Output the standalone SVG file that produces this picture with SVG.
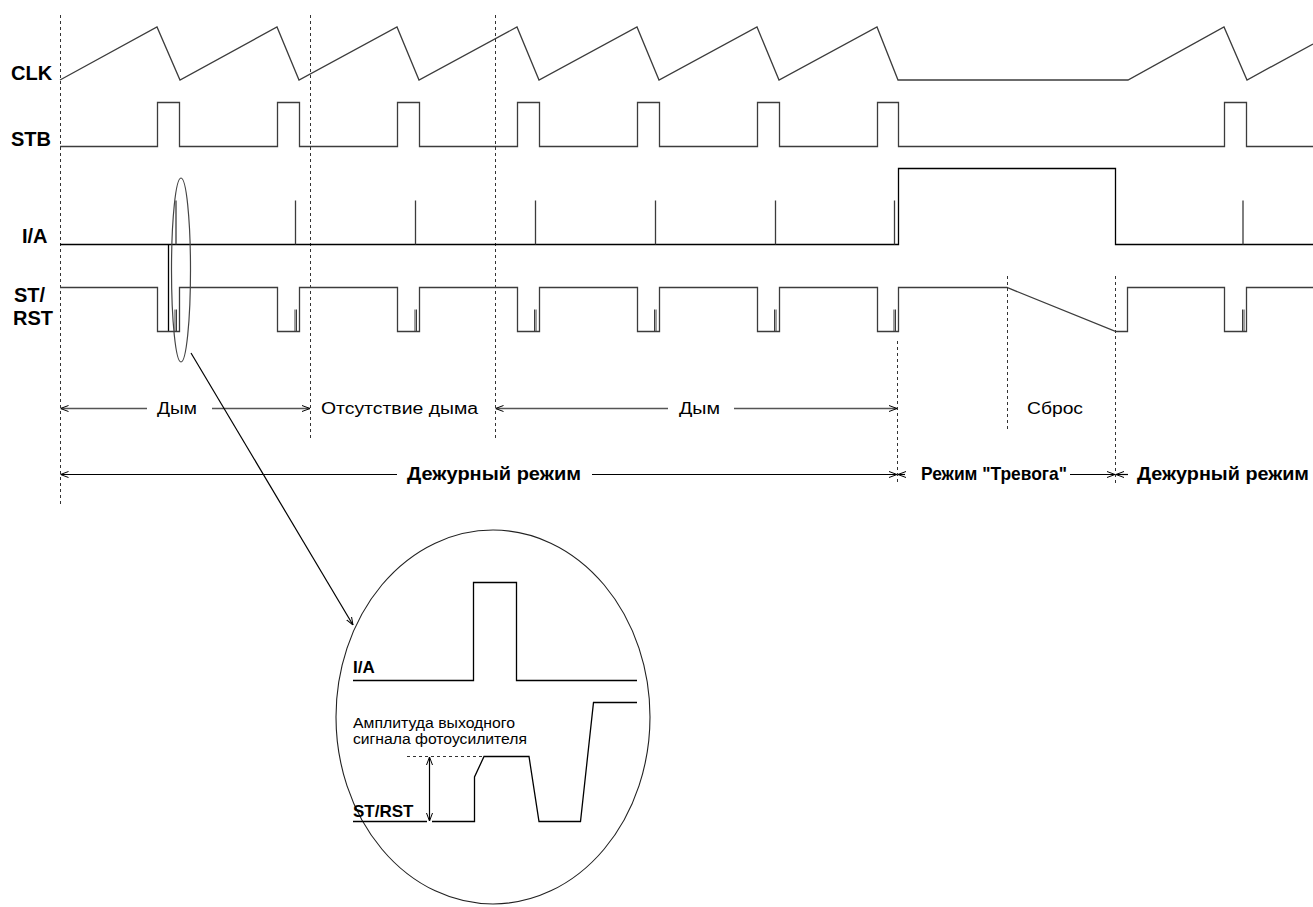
<svg xmlns="http://www.w3.org/2000/svg" width="1313" height="907" viewBox="0 0 1313 907">
<style>
.w{fill:none;stroke:#3c3c3c;stroke-width:1.3}
.s{fill:none;stroke:#3c3c3c;stroke-width:1}
.b{fill:none;stroke:#000;stroke-width:1.3}
.d{fill:none;stroke:#333;stroke-width:1;stroke-dasharray:3,3}
.a1{fill:none;stroke:#555;stroke-width:1.4}
.a2{fill:none;stroke:#000;stroke-width:1.2}
.lab{font-family:"Liberation Sans",Arial,sans-serif;font-weight:bold;font-size:20px;fill:#000}
.t1{font-family:"Liberation Sans",Arial,sans-serif;font-size:16px;fill:#000}
.t2{font-family:"Liberation Sans",Arial,sans-serif;font-weight:bold;font-size:18.5px;fill:#000}
.t3{font-family:"Liberation Sans",Arial,sans-serif;font-size:14px;fill:#000}
.t4{font-family:"Liberation Sans",Arial,sans-serif;font-weight:bold;font-size:17px;fill:#000}
</style>
<defs>
<marker id="ah" viewBox="0 0 8 8" refX="8" refY="4" markerWidth="8" markerHeight="8" orient="auto-start-reverse" markerUnits="userSpaceOnUse">
<path d="M0,1 L8,4 L0,7" fill="none" stroke="#000" stroke-width="1"/>
</marker>
</defs>
<rect width="1313" height="907" fill="#fff"/>

<g id="guides">
<line class="d" x1="60.5" y1="15" x2="60.5" y2="507"/>
<line class="d" x1="310.5" y1="15" x2="310.5" y2="441"/>
<line class="d" x1="495.5" y1="15" x2="495.5" y2="441"/>
<line class="d" x1="897.5" y1="341" x2="897.5" y2="482"/>
<line class="d" x1="1007.5" y1="276" x2="1007.5" y2="430"/>
<line class="d" x1="1115.5" y1="276" x2="1115.5" y2="485"/>
</g>

<g id="clk">
<text class="lab" x="11" y="80">CLK</text>
<path class="w" d="M60,80 L157,27 L180,80 L277,27 L299,80 L397,27 L419,80 L517,27 L539,80 L637,27 L659,80 L757,27 L779,80 L877,27 L898,80 L1128,80 L1224,27 L1247,80 L1313,44"/>
</g>

<g id="stb">
<text class="lab" x="11" y="146">STB</text>
<path class="w" d="M60,146.5 H157.5 V102.5 H179.5 V146.5 H277.5 V102.5 H299.5 V146.5 H397.5 V102.5 H419.5 V146.5 H517.5 V102.5 H539.5 V146.5 H637.5 V102.5 H659.5 V146.5 H757.5 V102.5 H779.5 V146.5 H877.5 V102.5 H898.5 V146.5 H1224.5 V102.5 H1246.5 V146.5 H1313"/>
</g>

<g id="ia">
<text class="lab" x="22" y="243">I/A</text>
<path class="b" d="M60,244.5 H898.5 V168.5 H1115.5 V244.5 H1313"/>
<path class="w" d="M176,244.5 V200.5 M295.5,244.5 V200.5 M415.5,244.5 V200.5 M535.5,244.5 V200.5 M655.5,244.5 V200.5 M775.5,244.5 V200.5 M894.5,244.5 V200.5 M1243,244.5 V200.5"/>
<line class="b" x1="168.5" y1="244.5" x2="168.5" y2="331.5"/>
</g>

<g id="strst">
<text class="lab" x="14" y="302">ST/</text>
<text class="lab" x="13" y="325">RST</text>
<path class="w" d="M60,287.5 H157.5 V331.5 H179.5 V287.5 H277.5 V331.5 H299.5 V287.5 H397.5 V331.5 H419.5 V287.5 H517.5 V331.5 H539.5 V287.5 H637.5 V331.5 H659.5 V287.5 H757.5 V331.5 H779.5 V287.5 H877.5 V331.5 H898.5 V287.5 H1007 L1116,331.5 H1127.5 V287.5 H1224.5 V331.5 H1246.5 V287.5 H1313"/>
<path class="s" d="M175,331.5 V309.5 M176.5,331.5 V309.5 M295,331.5 V309.5 M296.5,331.5 V309.5 M415,331.5 V309.5 M416.5,331.5 V309.5 M534.5,331.5 V309.5 M536,331.5 V309.5 M654.5,331.5 V309.5 M656,331.5 V309.5 M774.5,331.5 V309.5 M776,331.5 V309.5 M894,331.5 V309.5 M895.5,331.5 V309.5 M1242.5,331.5 V309.5 M1244,331.5 V309.5"/>
</g>

<g id="highlight">
<ellipse cx="181" cy="270" rx="9.5" ry="92" fill="none" stroke="#444" stroke-width="1.2"/>
</g>

<g id="labels">
<text class="t1" x="157" y="414" textLength="40" lengthAdjust="spacingAndGlyphs">Дым</text>
<text class="t1" x="321" y="414" textLength="157" lengthAdjust="spacingAndGlyphs">Отсутствие дыма</text>
<text class="t1" x="679" y="414" textLength="41" lengthAdjust="spacingAndGlyphs">Дым</text>
<text class="t1" x="1027" y="414" textLength="56" lengthAdjust="spacingAndGlyphs">Сброс</text>
<text class="t2" x="407" y="480" textLength="174" lengthAdjust="spacingAndGlyphs">Дежурный режим</text>
<text class="t2" x="921" y="480" textLength="146" lengthAdjust="spacingAndGlyphs">Режим "Тревога"</text>
<text class="t2" x="1137" y="480" textLength="172" lengthAdjust="spacingAndGlyphs">Дежурный режим</text>
</g>

<g id="connectors">
<line class="a1" x1="147" y1="408.5" x2="60.5" y2="408.5" marker-end="url(#ah)"/>
<line class="a1" x1="212" y1="408.5" x2="310" y2="408.5" marker-end="url(#ah)"/>
<line class="a1" x1="668" y1="408.5" x2="495.5" y2="408.5" marker-end="url(#ah)"/>
<line class="a1" x1="734" y1="408.5" x2="897" y2="408.5" marker-end="url(#ah)"/>
<line class="a2" x1="397" y1="474.5" x2="60.5" y2="474.5" marker-end="url(#ah)"/>
<line class="a2" x1="592" y1="474.5" x2="897" y2="474.5" marker-end="url(#ah)"/>
<line class="a2" x1="905" y1="474.5" x2="898" y2="474.5" marker-end="url(#ah)"/>
<line class="a2" x1="1070" y1="474.5" x2="1115" y2="474.5" marker-end="url(#ah)"/>
<line class="a2" x1="1128" y1="474.5" x2="1116" y2="474.5" marker-end="url(#ah)"/>
<line class="a2" x1="191" y1="353" x2="353" y2="625" marker-end="url(#ah)"/>
</g>

<g id="zoom">
<ellipse cx="493" cy="717" rx="157" ry="187" fill="none" stroke="#222" stroke-width="1.1"/>
<text class="t4" x="353" y="673">I/A</text>
<path class="b" d="M353,680.5 H473.5 V582.5 H516.5 V680.5 H637"/>
<text class="t3" x="353" y="728" textLength="162" lengthAdjust="spacingAndGlyphs">Амплитуда выходного</text>
<text class="t3" x="353" y="744" textLength="174" lengthAdjust="spacingAndGlyphs">сигнала фотоусилителя</text>
<path class="b" d="M637,702.5 H593.5 L580.5,821.5 H539 L529,756.5 H484 L474.5,777 V821.5 H432"/>
<line class="b" x1="353" y1="821.5" x2="427" y2="821.5"/>
<line class="d" x1="407" y1="756.5" x2="484" y2="756.5"/>
<line class="a2" x1="429.5" y1="789" x2="429.5" y2="757" marker-end="url(#ah)"/>
<line class="a2" x1="429.5" y1="789" x2="429.5" y2="821" marker-end="url(#ah)"/>
<text class="t4" x="353" y="817">ST/RST</text>
</g>
</svg>
